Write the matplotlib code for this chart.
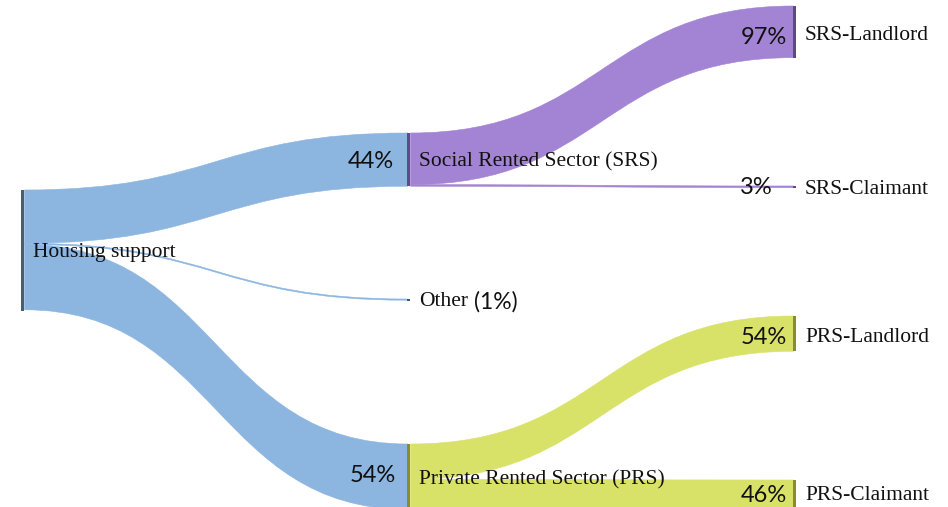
import numpy as np
import matplotlib.pyplot as plt
from matplotlib.path import Path
from matplotlib.patches import PathPatch, Rectangle

# nodes of the sankey
nodes = ["Housing support", "Social Rented Sector (SRS)", "Other",
         "Private Rented Sector (PRS)", "SRS-Landlord", "SRS-Claimant",
         "PRS-Landlord", "PRS-Claimant"]
# links: source -> target, share of the source in %
link_src = [0, 0, 0, 1, 1, 3, 3]
link_tgt = [1, 2, 3, 4, 5, 6, 7]
link_pct = [44, 1, 54, 97, 3, 54, 46]
root_total = 99

# layout (pixel space, y downwards)
node_col = [23, 409, 409, 409, 795, 795, 795, 795]
node_top = [190, 133, 299, 444, 6, 186, 316, 480]
px_per_unit = 121 / root_total

link_colors = {0: "#8cb5e0", 1: "#a383d3", 3: "#d9e268"}
node_colors = ["#4e5c70", "#5e4a86", "#3c5478", "#8a8c32",
               "#5e4a86", "#5e4a86", "#8a8c32", "#8a8c32"]

# node values
value = [0.0] * len(nodes)
value[0] = root_total
for s, t, p in zip(link_src, link_tgt, link_pct):
    value[t] = value[s] * p / 100

fig = plt.figure(figsize=(9.48, 5.07), dpi=100)
ax = fig.add_axes([0, 0, 1, 1])
ax.set_xlim(0, 948)
ax.set_ylim(507, 0)
ax.axis("off")

out_off = [0.0] * len(nodes)
in_off = [0.0] * len(nodes)
for s, t in zip(link_src, link_tgt):
    h = value[t] * px_per_unit
    y0 = node_top[s] + out_off[s]
    y1 = node_top[t] + in_off[t]
    out_off[s] += h
    in_off[t] += h
    x0, x1 = node_col[s] + 1.5, node_col[t] - 1.5
    xm = (x0 + x1) / 2
    verts = [(x0, y0), (xm, y0), (xm, y1), (x1, y1),
             (x1, y1 + h), (xm, y1 + h), (xm, y0 + h), (x0, y0 + h), (x0, y0)]
    codes = [Path.MOVETO, Path.CURVE4, Path.CURVE4, Path.CURVE4,
             Path.LINETO, Path.CURVE4, Path.CURVE4, Path.CURVE4, Path.CLOSEPOLY]
    c = link_colors[s]
    ax.add_patch(PathPatch(Path(verts, codes), facecolor=c, edgecolor=c, lw=0.4, zorder=1))

for i, n in enumerate(nodes):
    h = max(value[i] * px_per_unit, 2)
    ax.add_patch(Rectangle((node_col[i] - 1.5, node_top[i]), 3, h,
                           facecolor=node_colors[i], edgecolor="none", zorder=2))

serif = "Liberation Serif"
sans = "Lato"
label_y = [252, 162, 302, 480, 35, 190, 337, 496]
for i, n in enumerate(nodes):
    ax.text(node_col[i] + 10, label_y[i], n, family=serif, fontsize=15.5,
            color="#111111", va="center", ha="left", zorder=3)

ax.text(474, 302, "(1%)", family=sans, fontsize=16.5, color="#111111", va="center", ha="left", zorder=3)

# percentage labels at the target end of each link
pct_y = [162, None, 476, 38, 188, 338, 496]
pct_dx = [-15, 0, -13, -8, -22, -8, -8]
for s, t, p, y, dx in zip(link_src, link_tgt, link_pct, pct_y, pct_dx):
    if y is None:
        continue
    ax.text(node_col[t] + dx, y, f"{p}%", family=sans, fontsize=17,
            color="#111111", va="center", ha="right", zorder=3)

fig.savefig("out.png", dpi=100)
